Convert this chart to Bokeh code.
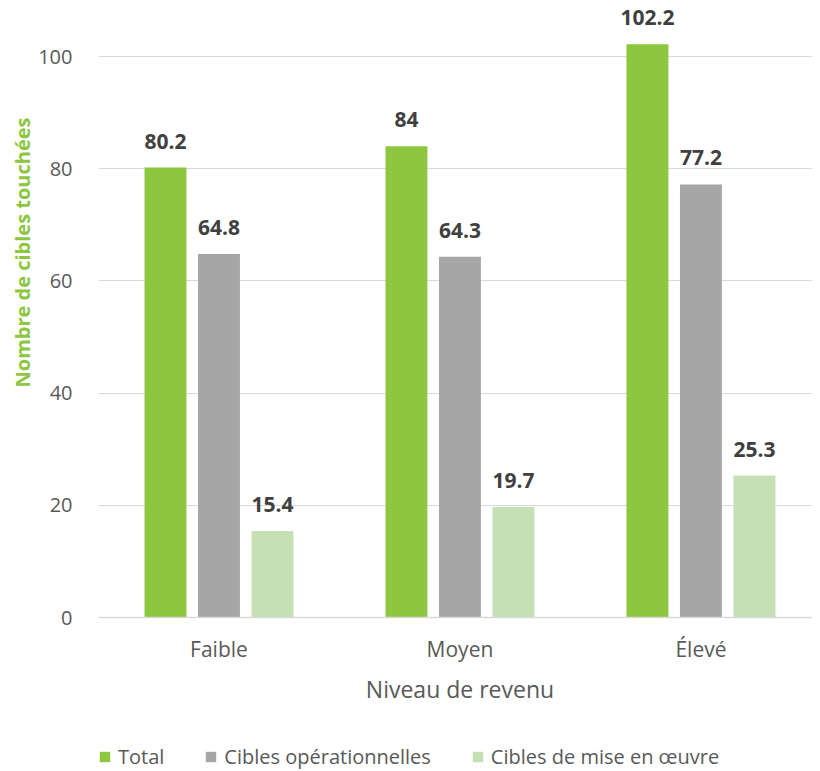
from bokeh.plotting import figure
from bokeh.models import ColumnDataSource, Range1d, FixedTicker, Legend, LegendItem, Title, Span
from bokeh.core.properties import value
from bokeh.embed import file_html
from bokeh.resources import INLINE

categories = ["Faible", "Moyen", "Élevé"]
total = [80.2, 84, 102.2]
operationnelles = [64.8, 64.3, 77.2]
mise_en_oeuvre = [15.4, 19.7, 25.3]
series_names = ["Total", "Cibles opérationnelles", "Cibles de mise en œuvre"]
series_colors = ["#8DC63F", "#A6A6A6", "#C5E0B4"]
y_ticks = [0, 20, 40, 60, 80, 100]
x_title = "Niveau de revenu"
y_title = "Nombre de cibles touchées"

FONT = "Open Sans"
centers = [i + 0.5 for i in range(len(categories))]
offsets = [-0.222, 0.0, 0.222]
bar_w = 0.174

p = figure(frame_width=714, frame_height=762, output_backend="svg", toolbar_location=None,
           x_range=Range1d(0, 2.963), y_range=Range1d(-27.27, 108.56),
           min_border_left=98, min_border_right=0, min_border_top=8, min_border_bottom=0)
p.outline_line_color = None
p.background_fill_color = "white"
p.border_fill_color = "white"

# grid
p.yaxis.ticker = FixedTicker(ticks=y_ticks)
p.ygrid.grid_line_color = "#D9D9D9"
p.ygrid.grid_line_width = 1.2
p.xgrid.grid_line_color = None
p.add_layout(Span(location=0, dimension="width", line_color="#D9D9D9", line_width=1.5))

items = []
for vals, name, color, off in zip([total, operationnelles, mise_en_oeuvre], series_names, series_colors, offsets):
    src = ColumnDataSource(dict(x=[c + off for c in centers], top=vals,
                                lbl=[f"{v:g}" for v in vals]))
    r = p.vbar(x="x", top="top", width=bar_w, bottom=0, source=src,
               fill_color=color, line_color=None)
    p.text(x="x", y="top", text="lbl", source=src, text_align="center",
           text_baseline="bottom", y_offset=-19, text_color="#404040",
           text_font=value(FONT), text_font_size="21px", text_font_style="bold")
    items.append(LegendItem(label=name, renderers=[r]))

# category labels and x title (x axis drawn inside the frame)
cat_src = ColumnDataSource(dict(x=centers, y=[0] * len(centers), t=categories))
p.text(x="x", y="y", text="t", source=cat_src, text_align="center",
       text_baseline="middle", y_offset=31, text_color="#595959",
       text_font=value(FONT), text_font_size="21px")
p.text(x=[centers[1]], y=[0], text=[x_title], text_align="center",
       text_baseline="middle", y_offset=71, text_color="#595959",
       text_font=value(FONT), text_font_size="23px")
p.xaxis.visible = False

# y axis
p.yaxis.major_tick_line_color = None
p.yaxis.minor_tick_line_color = None
p.yaxis.axis_line_color = None
p.yaxis.major_label_text_font = FONT
p.yaxis.major_label_text_font_size = "20px"
p.yaxis.major_label_text_color = "#595959"
p.yaxis.major_label_standoff = 20

ytitle = Title(text=y_title, align="left", offset=383,
               text_color="#8DC63F", text_font=FONT, text_font_size="20px",
               text_font_style="bold", standoff=0)
p.add_layout(ytitle, "left")

legend = Legend(items=items, orientation="horizontal", location=(0, 0),
                label_text_font=FONT, label_text_font_size="20px",
                label_text_color="#595959", glyph_width=13, glyph_height=13,
                label_standoff=7, spacing=40, border_line_color=None,
                background_fill_alpha=0, margin=0, padding=0)
p.add_layout(legend, "center")

open("out.html", "w").write(file_html(p, INLINE))
